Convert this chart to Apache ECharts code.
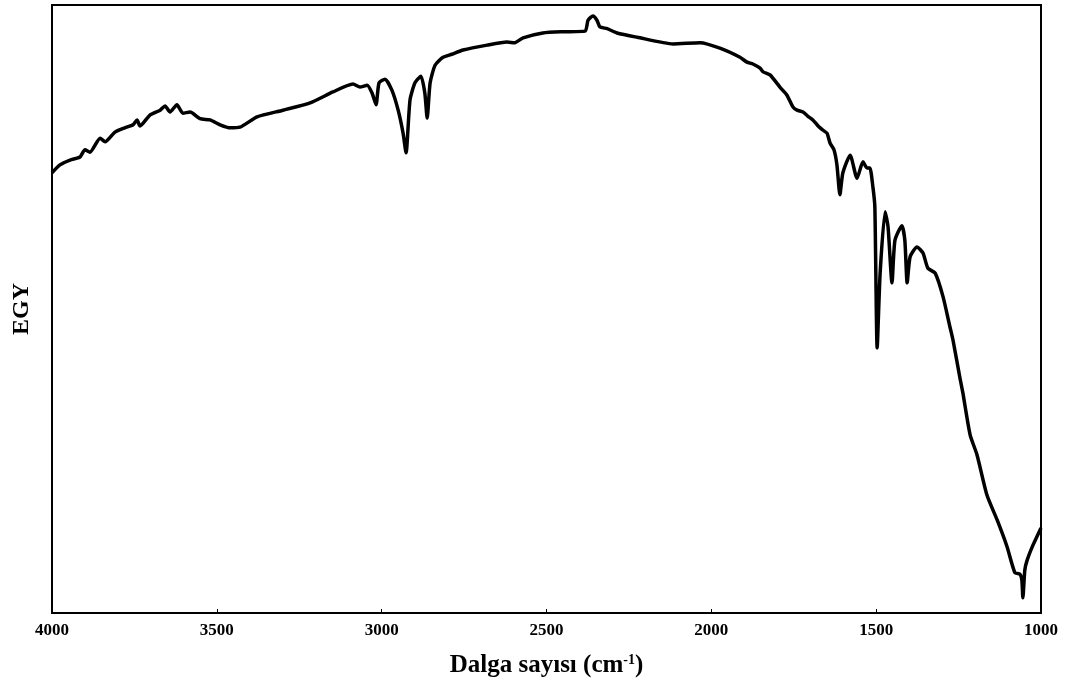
<!DOCTYPE html>
<html>
<head>
<meta charset="utf-8">
<script src="https://cdn.jsdelivr.net/npm/echarts@6/dist/echarts.min.js"></script>
<style>
  html, body { margin: 0; padding: 0; background: #fff; }
  #chart { width: 1084px; height: 691px; }
</style>
</head>
<body>
<div id="chart"></div>
<script>
// dalga sayısı (cm-1)
var wavenumbers = [
  4000, 3976, 3945, 3915, 3900, 3885, 3854, 3839, 3809, 3779,
  3754, 3742, 3733, 3703, 3672, 3657, 3642, 3621, 3603, 3581,
  3551, 3521, 3490, 3460, 3430, 3378, 3299, 3217, 3148, 3087,
  3066, 3044, 3029, 3017, 3008, 2990, 2969, 2950, 2935, 2926,
  2914, 2899, 2881, 2869, 2862, 2853, 2838, 2814, 2787, 2753,
  2680, 2620, 2596, 2571, 2511, 2450, 2383, 2374, 2359, 2347,
  2338, 2316, 2286, 2225, 2116, 2034, 1974, 1913, 1892, 1874,
  1852, 1843, 1822, 1792, 1771, 1752, 1740, 1722, 1707, 1692,
  1676, 1661, 1649, 1640, 1628, 1619, 1610, 1601, 1579, 1558,
  1540, 1528, 1519, 1510, 1504, 1497, 1488, 1473, 1464, 1452,
  1443, 1422, 1413, 1406, 1397, 1376, 1358, 1343, 1321, 1297,
  1276, 1267, 1246, 1237, 1215, 1194, 1164, 1133, 1103, 1079,
  1064, 1058, 1055, 1049, 1042, 1024, 1000
];
// EGY (keyfi birim)
var egy = [
  72.4, 73.7, 74.5, 75.0, 76.2, 75.8, 78.1, 77.5, 79.1, 79.8,
  80.3, 81.1, 80.1, 81.9, 82.7, 83.4, 82.4, 83.6, 82.2, 82.4,
  81.3, 81.1, 80.3, 79.8, 79.9, 81.6, 82.7, 83.9, 85.7, 87.0,
  86.5, 86.8, 85.5, 83.6, 87.2, 87.8, 86.0, 82.7, 78.9, 75.7,
  84.4, 87.2, 88.3, 85.5, 81.4, 87.2, 90.1, 91.4, 91.9, 92.6,
  93.4, 93.9, 93.8, 94.6, 95.4, 95.6, 95.7, 97.5, 98.2, 97.5,
  96.4, 96.1, 95.4, 94.7, 93.6, 93.8, 92.9, 91.4, 90.6, 90.3,
  89.6, 89.0, 88.5, 86.5, 85.2, 83.2, 82.7, 82.4, 81.7, 81.1,
  80.1, 79.4, 78.9, 77.3, 76.2, 73.7, 68.8, 72.4, 75.3, 71.5,
  74.2, 73.2, 73.2, 70.1, 66.8, 43.6, 55.9, 66.0, 63.5, 54.3,
  61.3, 63.7, 61.3, 54.3, 58.6, 60.2, 59.2, 56.7, 55.9, 52.0,
  47.0, 44.9, 38.7, 36.2, 29.3, 26.0, 19.4, 15.3, 10.9, 6.6,
  6.4, 5.4, 2.5, 7.1, 8.7, 11.2, 14.0
];
var xTicks = [1000, 1500, 2000, 2500, 3000, 3500, 4000];

var chart = echarts.init(document.getElementById("chart"));

var points = wavenumbers.map(function (w, i) {
  return [w, egy[i]];
});

var option = {
  backgroundColor: "#fff",
  animation: false,
  grid: {
    left: 52,
    right: 43,
    top: 5,
    bottom: 78,
    show: true,
    borderColor: "#000",
    borderWidth: 2,
  },
  xAxis: {
    type: "value",
    inverse: true,
    min: xTicks[0],
    max: xTicks[xTicks.length - 1],
    interval: 500,
    name: "{a|Dalga sayısı (cm}{b|-1}{a|)}",
    nameLocation: "middle",
    nameGap: 40,
    nameTextStyle: {
      rich: {
        a: {
          fontFamily: "Liberation Serif",
          fontWeight: "bold",
          fontSize: 25,
          color: "#000",
        },
        b: {
          fontFamily: "Liberation Serif",
          fontWeight: "bold",
          fontSize: 14,
          color: "#000",
          verticalAlign: "top",
        },
      },
    },
    axisLine: { show: true, lineStyle: { color: "#000", width: 2 } },
    axisTick: { show: true, inside: true, length: 4, lineStyle: { color: "#000" } },
    axisLabel: {
      margin: 9,
      fontFamily: "Liberation Serif",
      fontWeight: "bold",
      fontSize: 17,
      color: "#000",
      formatter: function (v) {
        return String(v);
      },
    },
    splitLine: { show: false },
  },
  yAxis: {
    type: "value",
    min: 0,
    max: 100,
    name: "EGY",
    nameLocation: "middle",
    nameGap: 18,
    nameTextStyle: {
      fontFamily: "Liberation Serif",
      fontWeight: "bold",
      fontSize: 24,
      color: "#000",
    },
    axisLine: { show: true, lineStyle: { color: "#000", width: 2 } },
    axisTick: { show: false },
    axisLabel: { show: false },
    splitLine: { show: false },
  },
  series: [
    {
      type: "line",
      data: points,
      showSymbol: false,
      smooth: 0.2,
      lineStyle: { color: "#000", width: 3.5 },
    },
  ],
};

chart.setOption(option);
</script>
</body>
</html>
